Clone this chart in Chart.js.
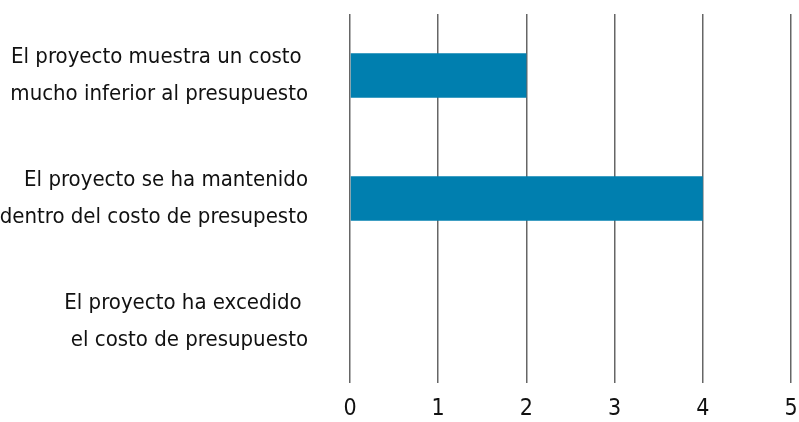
<!DOCTYPE html>
<html><head><meta charset="utf-8">
<script src="https://cdn.jsdelivr.net/npm/chart.js@4/dist/chart.umd.min.js"></script>
<style>html,body{margin:0;padding:0;background:#fff;}#wrap{width:799px;height:422px;}</style>
</head><body><div id="wrap"><canvas id="c" width="799" height="422"></canvas></div>
<script>
const categories = [
  ["El proyecto muestra un costo ", "mucho inferior al presupuesto"],
  ["El proyecto se ha mantenido", "dentro del costo de presupesto"],
  ["El proyecto ha excedido ", "el costo de presupuesto"]
];
const values = [2, 4, 0];
const tickValues = [0, 1, 2, 3, 4, 5];
const FONT = "'Liberation Sans Narrow', 'DejaVu Sans Condensed', sans-serif";

new Chart(document.getElementById('c'), {
  type: 'bar',
  data: {
    labels: categories,
    datasets: [{ data: values, backgroundColor: '#007FAF', borderWidth: 0,
      barPercentage: 0.6, categoryPercentage: 0.6 }]
  },
  options: {
    indexAxis: 'y',
    responsive: false,
    animation: false,
    layout: { padding: { top: 14, right: 8, left: 0, bottom: 0 } },
    plugins: { legend: { display: false }, tooltip: { enabled: false } },
    scales: {
      x: {
        min: 0, max: 5,
        afterBuildTicks: (axis) => { axis.ticks = tickValues.map(v => ({ value: v })); },
        grid: { color: '#666', lineWidth: 1.5, drawTicks: false },
        border: { display: false },
        afterFit: (axis) => { axis.height = 39; axis.paddingLeft = 0; axis.paddingRight = 0; },
        ticks: { color: '#111', font: { family: FONT, size: 23 }, padding: 12 }
      },
      y: {
        grid: { display: false, drawTicks: false },
        border: { display: false },
        afterFit: (axis) => { axis.width = 350; axis.paddingTop = 0; axis.paddingBottom = 0; },
        ticks: { color: '#111', font: { family: FONT, size: 22, lineHeight: 1.7 }, padding: 42 }
      }
    }
  }
});
</script></body></html>
